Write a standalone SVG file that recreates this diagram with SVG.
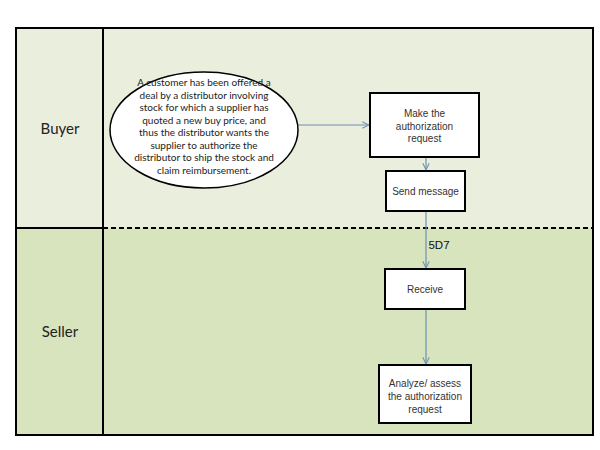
<svg xmlns="http://www.w3.org/2000/svg" width="600" height="450" viewBox="0 0 600 450">
<defs>
<marker id="arr" viewBox="0 0 10 10" refX="9.5" refY="5" markerWidth="8" markerHeight="8" markerUnits="userSpaceOnUse" orient="auto">
<path d="M1,1 L9.5,5 L1,9" fill="none" stroke="#6E90B3" stroke-width="1.3"/>
</marker>
<style>
.lane{font-family:Lato,"Open Sans","Liberation Sans",sans-serif;font-size:15px;fill:#222;text-anchor:middle}
.box{fill:#fff;stroke:#000;stroke-width:2}
.t{font-family:"Liberation Sans",Arial,sans-serif;font-size:10px;fill:#333;text-anchor:middle}
.et{font-family:Lato,"Open Sans","Liberation Sans",sans-serif;font-size:10px;fill:#222;text-anchor:middle}
.c{fill:none;stroke:#6E90B3;stroke-width:1.2;marker-end:url(#arr)}
</style>
</defs>
<rect width="600" height="450" fill="#fff"/>
<g id="lanes">
<rect x="16" y="28" width="577" height="200" fill="#EAEEDD"/>
<rect x="16" y="228" width="577" height="207" fill="#D7E4BD"/>
<line x1="16" y1="228" x2="103" y2="228" stroke="#000" stroke-width="2"/>
<line x1="103" y1="228" x2="593" y2="228" stroke="#000" stroke-width="2" stroke-dasharray="5,3"/>
<line x1="103" y1="28" x2="103" y2="435" stroke="#000" stroke-width="2"/>
<rect x="16" y="28" width="577" height="407" fill="none" stroke="#000" stroke-width="2"/>
<text class="lane" x="60" y="134">Buyer</text>
<text class="lane" x="60" y="337">Seller</text>
</g>
<g id="connectors">
<line class="c" x1="298" y1="125" x2="369" y2="125"/>
<line class="c" x1="426" y1="157" x2="426" y2="170"/>
<line class="c" x1="426" y1="211" x2="426" y2="268"/>
<line class="c" x1="426" y1="309" x2="426" y2="364"/>
<text x="439" y="249" font-family="'Liberation Sans',Arial,sans-serif" font-size="11.5" fill="#111" text-anchor="middle">5D7</text>
</g>
<g id="start">
<ellipse cx="204" cy="130" rx="94" ry="58" fill="#fff" stroke="#000" stroke-width="1.5"/>
<text class="et" x="204" y="86">A customer has been offered a</text>
<text class="et" x="204" y="98.5">deal by a distributor involving</text>
<text class="et" x="204" y="111">stock for which a supplier has</text>
<text class="et" x="204" y="123.5">quoted a new buy price, and</text>
<text class="et" x="204" y="136">thus the distributor wants the</text>
<text class="et" x="204" y="148.5">supplier to authorize the</text>
<text class="et" x="204" y="161">distributor to ship the stock and</text>
<text class="et" x="204" y="173.5">claim reimbursement.</text>
</g>
<g id="make">
<rect class="box" x="370" y="93" width="109" height="64"/>
<text class="t" x="424.5" y="117">Make the</text>
<text class="t" x="424.5" y="129.5">authorization</text>
<text class="t" x="424.5" y="142">request</text>
</g>
<g id="send">
<rect class="box" x="386" y="171" width="79" height="40"/>
<text class="t" x="425.5" y="195">Send message</text>
</g>
<g id="receive">
<rect class="box" x="385" y="269" width="80" height="40"/>
<text class="t" x="425" y="293">Receive</text>
</g>
<g id="analyze">
<rect class="box" x="379" y="365" width="92" height="58"/>
<text class="t" x="425" y="387">Analyze/ assess</text>
<text class="t" x="425" y="400">the authorization</text>
<text class="t" x="425" y="413">request</text>
</g>
</svg>
